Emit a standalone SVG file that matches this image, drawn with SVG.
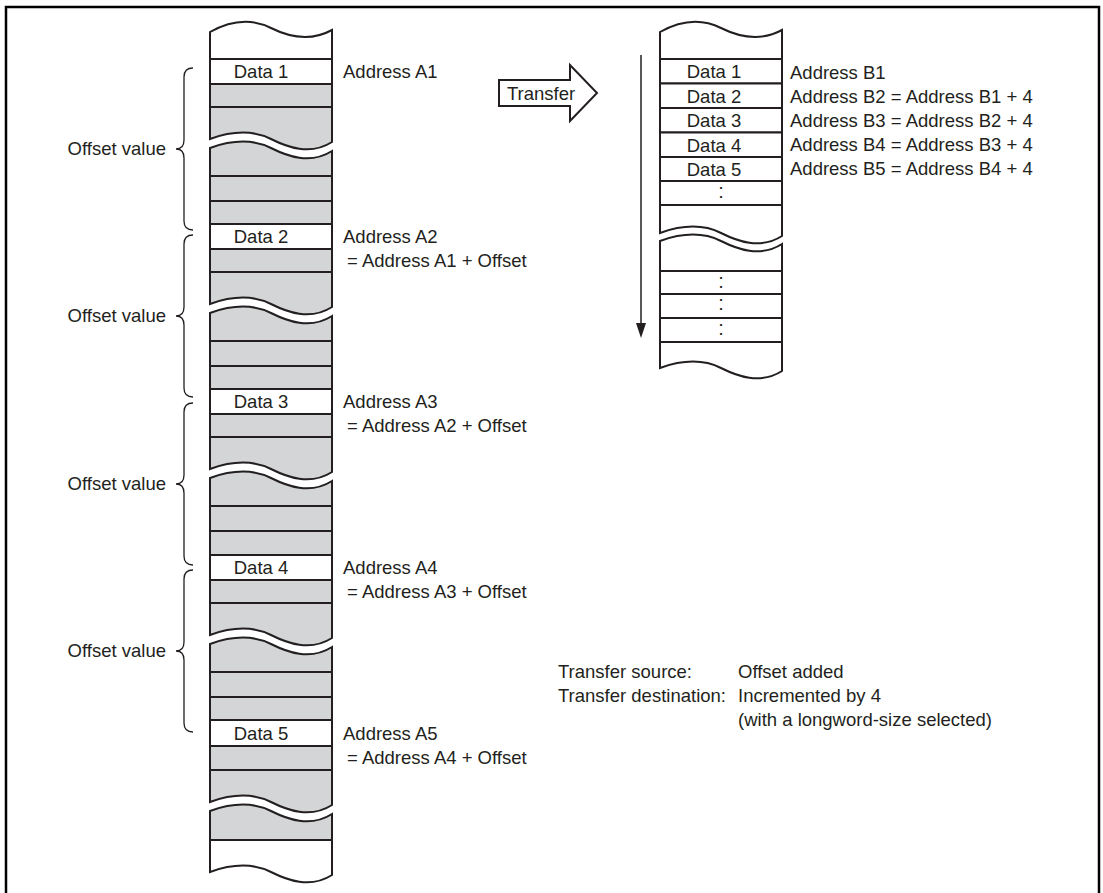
<svg xmlns="http://www.w3.org/2000/svg" width="1103" height="893" viewBox="0 0 1103 893">
<style>
.t{font-family:"Liberation Sans",Arial,sans-serif;font-size:18.5px;fill:#231f20}
.m{text-anchor:middle}
.e{text-anchor:end}
.d{font-size:20px}
.c{stroke:#231f20;stroke-width:2;fill:#fff}
.g{stroke:#231f20;stroke-width:2;fill:#d4d5d7}
.br{stroke:#231f20;stroke-width:1.3;fill:none}
</style>
<rect x="0" y="0" width="1103" height="893" fill="#fff"/>
<path d="M6,893 V7 H1099 V893" fill="none" stroke="#000" stroke-width="2.5"/>

<g id="source-column">
<path class="c" d="M210,32 C235,18 255,20 271,28 S310,42 332,30 V59 H210 Z"/>
<rect class="c" x="210" y="59" width="122" height="25"/>
<rect class="g" x="210" y="84" width="122" height="23"/>
<path class="g" d="M210,139 C235,130 255,131 271,139 S310,156 332,142 V107 H210 Z"/>
<path class="g" d="M210,148 C235,139 255,140 271,148 S310,165 332,151 V176 H210 Z"/>
<rect class="g" x="210" y="176" width="122" height="25"/>
<rect class="g" x="210" y="201" width="122" height="23"/>
<rect class="c" x="210" y="224" width="122" height="25"/>
<rect class="g" x="210" y="249" width="122" height="23"/>
<path class="g" d="M210,304 C235,295 255,296 271,304 S310,321 332,307 V272 H210 Z"/>
<path class="g" d="M210,313 C235,304 255,305 271,313 S310,330 332,316 V341 H210 Z"/>
<rect class="g" x="210" y="341" width="122" height="25"/>
<rect class="g" x="210" y="366" width="122" height="23"/>
<rect class="c" x="210" y="389" width="122" height="25"/>
<rect class="g" x="210" y="414" width="122" height="23"/>
<path class="g" d="M210,469 C235,460 255,461 271,469 S310,486 332,472 V437 H210 Z"/>
<path class="g" d="M210,478 C235,469 255,470 271,478 S310,495 332,481 V506 H210 Z"/>
<rect class="g" x="210" y="506" width="122" height="25"/>
<rect class="g" x="210" y="531" width="122" height="24"/>
<rect class="c" x="210" y="555" width="122" height="25"/>
<rect class="g" x="210" y="580" width="122" height="23"/>
<path class="g" d="M210,635 C235,626 255,627 271,635 S310,652 332,638 V603 H210 Z"/>
<path class="g" d="M210,644 C235,635 255,636 271,644 S310,661 332,647 V672 H210 Z"/>
<rect class="g" x="210" y="672" width="122" height="25"/>
<rect class="g" x="210" y="697" width="122" height="23"/>
<rect class="c" x="210" y="720" width="122" height="26"/>
<rect class="g" x="210" y="746" width="122" height="24"/>
<path class="g" d="M210,802 C235,793 255,794 271,802 S310,819 332,805 V770 H210 Z"/>
<path class="g" d="M210,811 C235,802 255,803 271,811 S310,828 332,814 V840 H210 Z"/>
<path class="c" d="M210,872 C235,863 255,864 271,872 S310,889 332,875 V840 H210 Z"/>
<text class="t m" x="261" y="78">Data 1</text>
<text class="t m" x="261" y="243">Data 2</text>
<text class="t m" x="261" y="408">Data 3</text>
<text class="t m" x="261" y="574">Data 4</text>
<text class="t m" x="261" y="740">Data 5</text>
</g>

<g id="source-addresses">
<text class="t" x="343" y="78">Address A1</text>
<text class="t" x="343" y="243">Address A2</text>
<text class="t" x="347" y="267">= Address A1 + Offset</text>
<text class="t" x="343" y="408">Address A3</text>
<text class="t" x="347" y="432">= Address A2 + Offset</text>
<text class="t" x="343" y="574">Address A4</text>
<text class="t" x="347" y="598">= Address A3 + Offset</text>
<text class="t" x="343" y="740">Address A5</text>
<text class="t" x="347" y="764">= Address A4 + Offset</text>
</g>

<g id="offset-braces">
<path class="br" d="M193,68 Q184,68 184,77 V140 Q184,149 176,149 Q184,149 184,158 V221 Q184,230 193,230"/>
<path class="br" d="M193,235 Q184,235 184,244 V307 Q184,316 176,316 Q184,316 184,325 V388 Q184,397 193,397"/>
<path class="br" d="M193,403 Q184,403 184,412 V475 Q184,484 176,484 Q184,484 184,493 V556 Q184,565 193,565"/>
<path class="br" d="M193,570 Q184,570 184,579 V642 Q184,651 176,651 Q184,651 184,660 V723 Q184,732 193,732"/>
<text class="t e" x="166" y="155">Offset value</text>
<text class="t e" x="166" y="322">Offset value</text>
<text class="t e" x="166" y="490">Offset value</text>
<text class="t e" x="166" y="657">Offset value</text>
</g>

<g id="transfer-arrow">
<path d="M499,80 H570 V65 L597,93 L570,121 V106 H499 Z" fill="#fff" stroke="#231f20" stroke-width="2"/>
<text class="t m" x="541" y="99.5">Transfer</text>
</g>

<g id="connectors">
<line x1="641" y1="55" x2="641" y2="326" stroke="#231f20" stroke-width="1.5"/>
<polygon points="636,323 646,323 641,338" fill="#231f20"/>
</g>

<g id="destination-column">
<path class="c" d="M660,32 C685,18 705,20 721,28 S760,42 782,30 V59 H660 Z"/>
<rect class="c" x="660" y="59" width="122" height="24.5"/>
<rect class="c" x="660" y="83.5" width="122" height="24.5"/>
<rect class="c" x="660" y="108" width="122" height="24.5"/>
<rect class="c" x="660" y="132.5" width="122" height="24.5"/>
<rect class="c" x="660" y="157" width="122" height="24"/>
<rect class="c" x="660" y="181" width="122" height="24"/>
<path class="c" d="M660,233 C685,224 705,225 721,233 S760,250 782,236 V205 H660 Z"/>
<path class="c" d="M660,241 C685,232 705,233 721,241 S760,258 782,244 V271 H660 Z"/>
<rect class="c" x="660" y="271" width="122" height="23"/>
<rect class="c" x="660" y="294" width="122" height="24"/>
<rect class="c" x="660" y="318" width="122" height="24"/>
<path class="c" d="M660,368 C685,359 705,360 721,368 S760,385 782,371 V342 H660 Z"/>
<text class="t m" x="714" y="78">Data 1</text>
<text class="t m" x="714" y="102.5">Data 2</text>
<text class="t m" x="714" y="127">Data 3</text>
<text class="t m" x="714" y="151.5">Data 4</text>
<text class="t m" x="714" y="176">Data 5</text>
<text class="t m d" x="721" y="198">:</text>
<text class="t m d" x="721" y="287.5">:</text>
<text class="t m d" x="721" y="310">:</text>
<text class="t m d" x="721" y="335">:</text>
</g>

<g id="destination-addresses">
<text class="t" x="790" y="78.5">Address B1</text>
<text class="t" x="790" y="102.5">Address B2 = Address B1 + 4</text>
<text class="t" x="790" y="126.5">Address B3 = Address B2 + 4</text>
<text class="t" x="790" y="150.5">Address B4 = Address B3 + 4</text>
<text class="t" x="790" y="175">Address B5 = Address B4 + 4</text>
</g>

<g id="legend">
<text class="t" x="558" y="678">Transfer source:</text>
<text class="t" x="738" y="678">Offset added</text>
<text class="t" x="558" y="702">Transfer destination:</text>
<text class="t" x="738" y="702">Incremented by 4</text>
<text class="t" x="738" y="726">(with a longword-size selected)</text>
</g>
</svg>
